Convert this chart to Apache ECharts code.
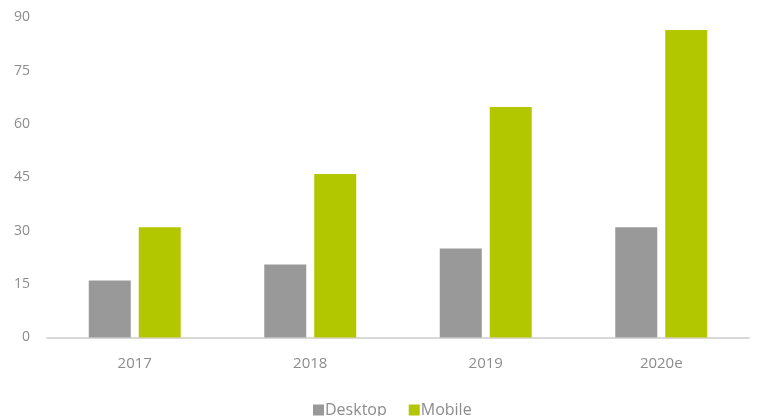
<!DOCTYPE html>
<html><head><meta charset="utf-8">
<script src="https://cdn.jsdelivr.net/npm/echarts@6/dist/echarts.min.js"></script>
<style>html,body{margin:0;padding:0;background:#fff}#c{width:757px;height:416px}</style>
</head><body><div id="c"></div>
<script>
const categories = ['2017', '2018', '2019', '2020e'];
const desktop = [16, 20.5, 25, 31];
const mobile = [31, 46, 64.8, 86.5];
const yTicks = { min: 0, max: 90, interval: 15 };

const chart = echarts.init(document.getElementById('c'), null, { renderer: 'canvas' });
const font = 'Open Sans, Liberation Sans, sans-serif';
chart.setOption({
  animation: false,
  grid: { left: 47, right: 8, top: 17.5, bottom: 78.5 },
  legend: {
    top: 397, left: 308, itemWidth: 11, itemHeight: 11, itemGap: 22,
    icon: 'rect',
    textStyle: { color: '#8c8c8c', fontSize: 16, fontFamily: font, padding: [0, 0, 0, -4] },
    data: ['Desktop', 'Mobile']
  },
  xAxis: {
    type: 'category', data: categories,
    axisLine: { lineStyle: { color: '#d9d9d9', width: 2 } },
    axisTick: { show: false },
    axisLabel: { color: '#8c8c8c', fontSize: 15, fontFamily: font, margin: 19 }
  },
  yAxis: {
    type: 'value', min: yTicks.min, max: yTicks.max, interval: yTicks.interval,
    splitLine: { show: false },
    axisLine: { show: false }, axisTick: { show: false },
    axisLabel: { color: '#8c8c8c', fontSize: 14, fontFamily: font, margin: 17 }
  },
  series: [
    { name: 'Desktop', type: 'bar', data: desktop, barWidth: 42, barGap: '19%',
      itemStyle: { color: '#999999' } },
    { name: 'Mobile', type: 'bar', data: mobile, barWidth: 42,
      itemStyle: { color: '#b2c700' } }
  ]
});
</script></body></html>
